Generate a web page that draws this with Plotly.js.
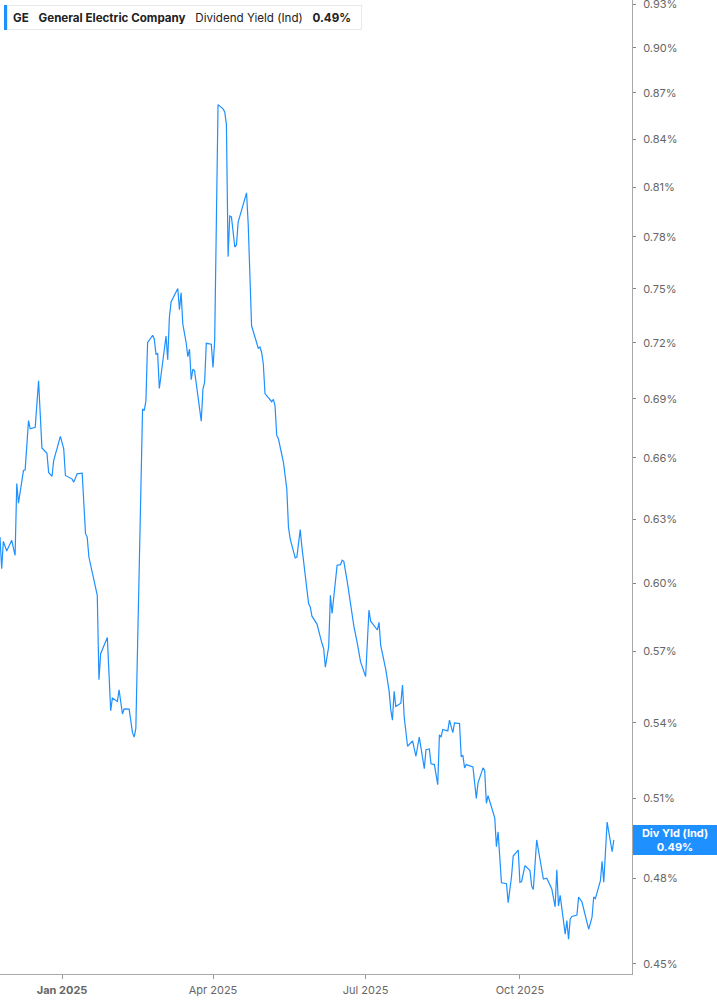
<!DOCTYPE html>
<html>
<head>
<meta charset="utf-8">
<script src="https://cdn.plot.ly/plotly-3.0.1.min.js"></script>
<style>html,body{margin:0;padding:0;background:#fff;}#chart{width:717px;height:1005px;}</style>
</head>
<body>
<div id="chart"></div>
<script>
var ticker = "GE";
var companyName = "General Electric Company";
var metricName = "Dividend Yield (Ind)";
var shortMetric = "Div Yld (Ind)";

var dates = [
"2024-11-25","2024-11-26","2024-11-27","2024-11-29","2024-12-02","2024-12-04","2024-12-05","2024-12-06","2024-12-09","2024-12-10",
"2024-12-12","2024-12-13","2024-12-16","2024-12-18","2024-12-20","2024-12-23","2024-12-24","2024-12-26","2024-12-27","2024-12-31",
"2025-01-02","2025-01-03","2025-01-07","2025-01-08","2025-01-10","2025-01-13","2025-01-15","2025-01-16","2025-01-17","2025-01-22",
"2025-01-23","2025-01-24","2025-01-28","2025-01-30","2025-01-31","2025-02-03","2025-02-04","2025-02-06","2025-02-07","2025-02-10",
"2025-02-12","2025-02-13","2025-02-14","2025-02-18","2025-02-19","2025-02-20","2025-02-21","2025-02-24","2025-02-25","2025-02-26",
"2025-02-27","2025-02-28","2025-03-04","2025-03-05","2025-03-06","2025-03-07","2025-03-11","2025-03-12","2025-03-13","2025-03-14",
"2025-03-16","2025-03-17","2025-03-18","2025-03-19","2025-03-20","2025-03-21","2025-03-25","2025-03-26","2025-03-27","2025-03-28",
"2025-03-31","2025-04-01","2025-04-02","2025-04-04","2025-04-07","2025-04-08","2025-04-09","2025-04-10","2025-04-11","2025-04-12",
"2025-04-14","2025-04-15","2025-04-16","2025-04-21","2025-04-22","2025-04-23","2025-04-24","2025-04-28","2025-04-29","2025-04-30",
"2025-05-01","2025-05-02","2025-05-04","2025-05-06","2025-05-07","2025-05-08","2025-05-09","2025-05-10","2025-05-13","2025-05-15",
"2025-05-16","2025-05-17","2025-05-20","2025-05-21","2025-05-23","2025-05-24","2025-05-28","2025-05-29","2025-05-30","2025-06-02",
"2025-06-05","2025-06-06","2025-06-07","2025-06-09","2025-06-10","2025-06-11","2025-06-14","2025-06-16","2025-06-17","2025-06-18",
"2025-06-20","2025-06-24","2025-06-26","2025-06-28","2025-07-01","2025-07-03","2025-07-04","2025-07-08","2025-07-09","2025-07-10",
"2025-07-13","2025-07-15","2025-07-16","2025-07-17","2025-07-18","2025-07-19","2025-07-22","2025-07-23","2025-07-24","2025-07-26",
"2025-07-29","2025-07-31","2025-08-02","2025-08-05","2025-08-06","2025-08-08","2025-08-09","2025-08-11","2025-08-13","2025-08-14",
"2025-08-15","2025-08-16","2025-08-19","2025-08-20","2025-08-22","2025-08-23","2025-08-26","2025-08-27","2025-08-28","2025-08-29",
"2025-08-30","2025-09-03","2025-09-05","2025-09-06","2025-09-09","2025-09-10","2025-09-11","2025-09-12","2025-09-16","2025-09-17",
"2025-09-18","2025-09-20","2025-09-23","2025-09-24","2025-09-26","2025-09-27","2025-09-30","2025-10-01","2025-10-02","2025-10-04",
"2025-10-07","2025-10-08","2025-10-09","2025-10-11","2025-10-15","2025-10-17","2025-10-20","2025-10-22","2025-10-23","2025-10-24",
"2025-10-25","2025-10-28","2025-10-29","2025-10-30","2025-10-31","2025-11-01","2025-11-04","2025-11-05","2025-11-07","2025-11-11",
"2025-11-13","2025-11-14","2025-11-15","2025-11-18","2025-11-19","2025-11-20","2025-11-22","2025-11-25","2025-11-26"
];

var yieldPct = [
0.6215,0.6068,0.6195,0.6150,0.6200,0.6130,0.6472,0.6377,0.6537,0.6540,
0.6788,0.6746,0.6754,0.6996,0.6649,0.6622,0.6527,0.6507,0.6585,0.6707,
0.6644,0.6512,0.6494,0.6479,0.6520,0.6523,0.6231,0.6215,0.6122,0.5947,
0.5579,0.5690,0.5760,0.5450,0.5502,0.5488,0.5537,0.5436,0.5457,0.5456,
0.5360,0.5342,0.5377,0.6848,0.6839,0.6890,0.7200,0.7241,0.7219,0.7138,
0.7141,0.6955,0.7237,0.7108,0.7339,0.7426,0.7502,0.7382,0.7478,0.7302,
0.7200,0.7125,0.7165,0.7001,0.7058,0.7049,0.6785,0.6952,0.6987,0.7197,
0.7192,0.7067,0.7209,0.8622,0.8594,0.8575,0.8493,0.7685,0.7925,0.7919,
0.7741,0.7753,0.7889,0.8065,0.7875,0.7602,0.7293,0.7170,0.7177,0.7147,
0.7085,0.6928,0.6907,0.6886,0.6898,0.6864,0.6712,0.6695,0.6577,0.6447,
0.6262,0.6208,0.6118,0.6122,0.6250,0.6169,0.5910,0.5895,0.5854,0.5819,
0.5734,0.5712,0.5632,0.5722,0.5947,0.5866,0.6084,0.6087,0.6107,0.6102,
0.6011,0.5810,0.5737,0.5655,0.5592,0.5881,0.5832,0.5793,0.5827,0.5726,
0.5623,0.5532,0.5453,0.5411,0.5530,0.5467,0.5481,0.5557,0.5425,0.5305,
0.5327,0.5265,0.5342,0.5216,0.5291,0.5294,0.5235,0.5232,0.5153,0.5351,
0.5342,0.5373,0.5367,0.5411,0.5360,0.5400,0.5397,0.5263,0.5268,0.5219,
0.5232,0.5223,0.5100,0.5159,0.5219,0.5209,0.5081,0.5110,0.5025,0.4917,
0.4972,0.4784,0.4781,0.4713,0.4807,0.4882,0.4904,0.4786,0.4789,0.4847,
0.4829,0.4772,0.4760,0.4942,0.4798,0.4801,0.4762,0.4698,0.4832,0.4701,
0.4739,0.4602,0.4649,0.4584,0.4655,0.4664,0.4669,0.4733,0.4715,0.4619,
0.4661,0.4733,0.4727,0.4792,0.4863,0.4786,0.5009,0.4898,0.4942
];

var yTickVals = [0.45,0.48,0.51,0.54,0.57,0.60,0.63,0.66,0.69,0.72,0.75,0.78,0.81,0.84,0.87,0.90,0.93];
var yTickText = ["0.45%","0.48%","0.51%","0.54%","0.57%","0.60%","0.63%","0.66%","0.69%","0.72%","0.75%","0.78%","0.81%","0.84%","0.87%","0.90%","0.93%"];
var xTickVals = ["2025-01-01","2025-04-01","2025-07-01","2025-10-01"];
var xTickText = ["<b>Jan 2025</b>","Apr 2025","Jul 2025","Oct 2025"];

var lastVal = yieldPct[yieldPct.length - 1];
var lastTxt = lastVal.toFixed(2) + "%";
var BLUE = "#1e90ff";
var NB = "\u00a0\u00a0\u00a0";

var trace = {
  x: dates, y: yieldPct, type: "scatter", mode: "lines",
  line: {color: BLUE, width: 1.2}, hoverinfo: "skip"
};

var plotW = 632.3, plotH = 974.3;

var layout = {
  width: 717, height: 1005,
  margin: {l: 0, r: 717 - plotW, t: 0, b: 1005 - plotH, pad: 0},
  paper_bgcolor: "#ffffff", plot_bgcolor: "#ffffff",
  showlegend: false,
  font: {family: "Inter, 'Open Sans', sans-serif", size: 11, color: "#666"},
  xaxis: {
    type: "date", range: ["2024-11-25", "2025-12-06 20:00"],
    tickmode: "array", tickvals: xTickVals, ticktext: xTickText,
    ticks: "outside", ticklen: 4, tickwidth: 1, tickcolor: "#999",
    ticklabelstandoff: 2,
    showline: true, linecolor: "#a8a8a8", linewidth: 1,
    showgrid: false, zeroline: false,
    tickfont: {family: "Inter, sans-serif", size: 11, color: "#666"},
    fixedrange: true
  },
  yaxis: {
    type: "log", range: [-0.350172, -0.030006], side: "right",
    tickmode: "array", tickvals: yTickVals, ticktext: yTickText,
    ticks: "outside", ticklen: 3, tickwidth: 1, tickcolor: "#888",
    ticklabelstandoff: 5, ticklabeloverflow: "allow",
    showline: true, linecolor: "#a8a8a8", linewidth: 1,
    showgrid: false, zeroline: false,
    tickfont: {family: "Inter, sans-serif", size: 11, color: "#666"},
    fixedrange: true
  },
  shapes: [{
    type: "rect", xref: "paper", yref: "paper",
    x0: 4 / plotW, x1: 7 / plotW, y0: 1 - 30 / plotH, y1: 1 - 5 / plotH,
    fillcolor: BLUE, line: {width: 0}, layer: "above"
  }],
  annotations: [
    {
      xref: "paper", yref: "paper", x: 0, y: 1, xanchor: "left", yanchor: "top",
      xshift: 7, yshift: -5, showarrow: false, align: "left",
      text: "<b>" + ticker + "</b>" + NB + "<b>" + companyName + "</b>" + NB + metricName + NB + "<b>" + lastTxt + "</b>",
      font: {family: "Inter, sans-serif", size: 11.6, color: "#222"},
      bgcolor: "#ffffff", bordercolor: "#e8e8e8", borderwidth: 1, borderpad: 5,
      width: 343, height: 13
    },
    {
      xref: "paper", yref: "y", x: 1, y: Math.log10(lastVal),
      xanchor: "left", yanchor: "middle", xshift: 0.5, showarrow: false, align: "center",
      text: "<b>" + shortMetric + "</b><br><b>" + lastTxt + "</b>",
      font: {family: "Inter, sans-serif", size: 11, color: "#ffffff"},
      bgcolor: BLUE, borderpad: 2, borderwidth: 0, width: 80, height: 26
    }
  ]
};

Plotly.newPlot("chart", [trace], layout, {staticPlot: true, displayModeBar: false});
</script>
</body>
</html>
